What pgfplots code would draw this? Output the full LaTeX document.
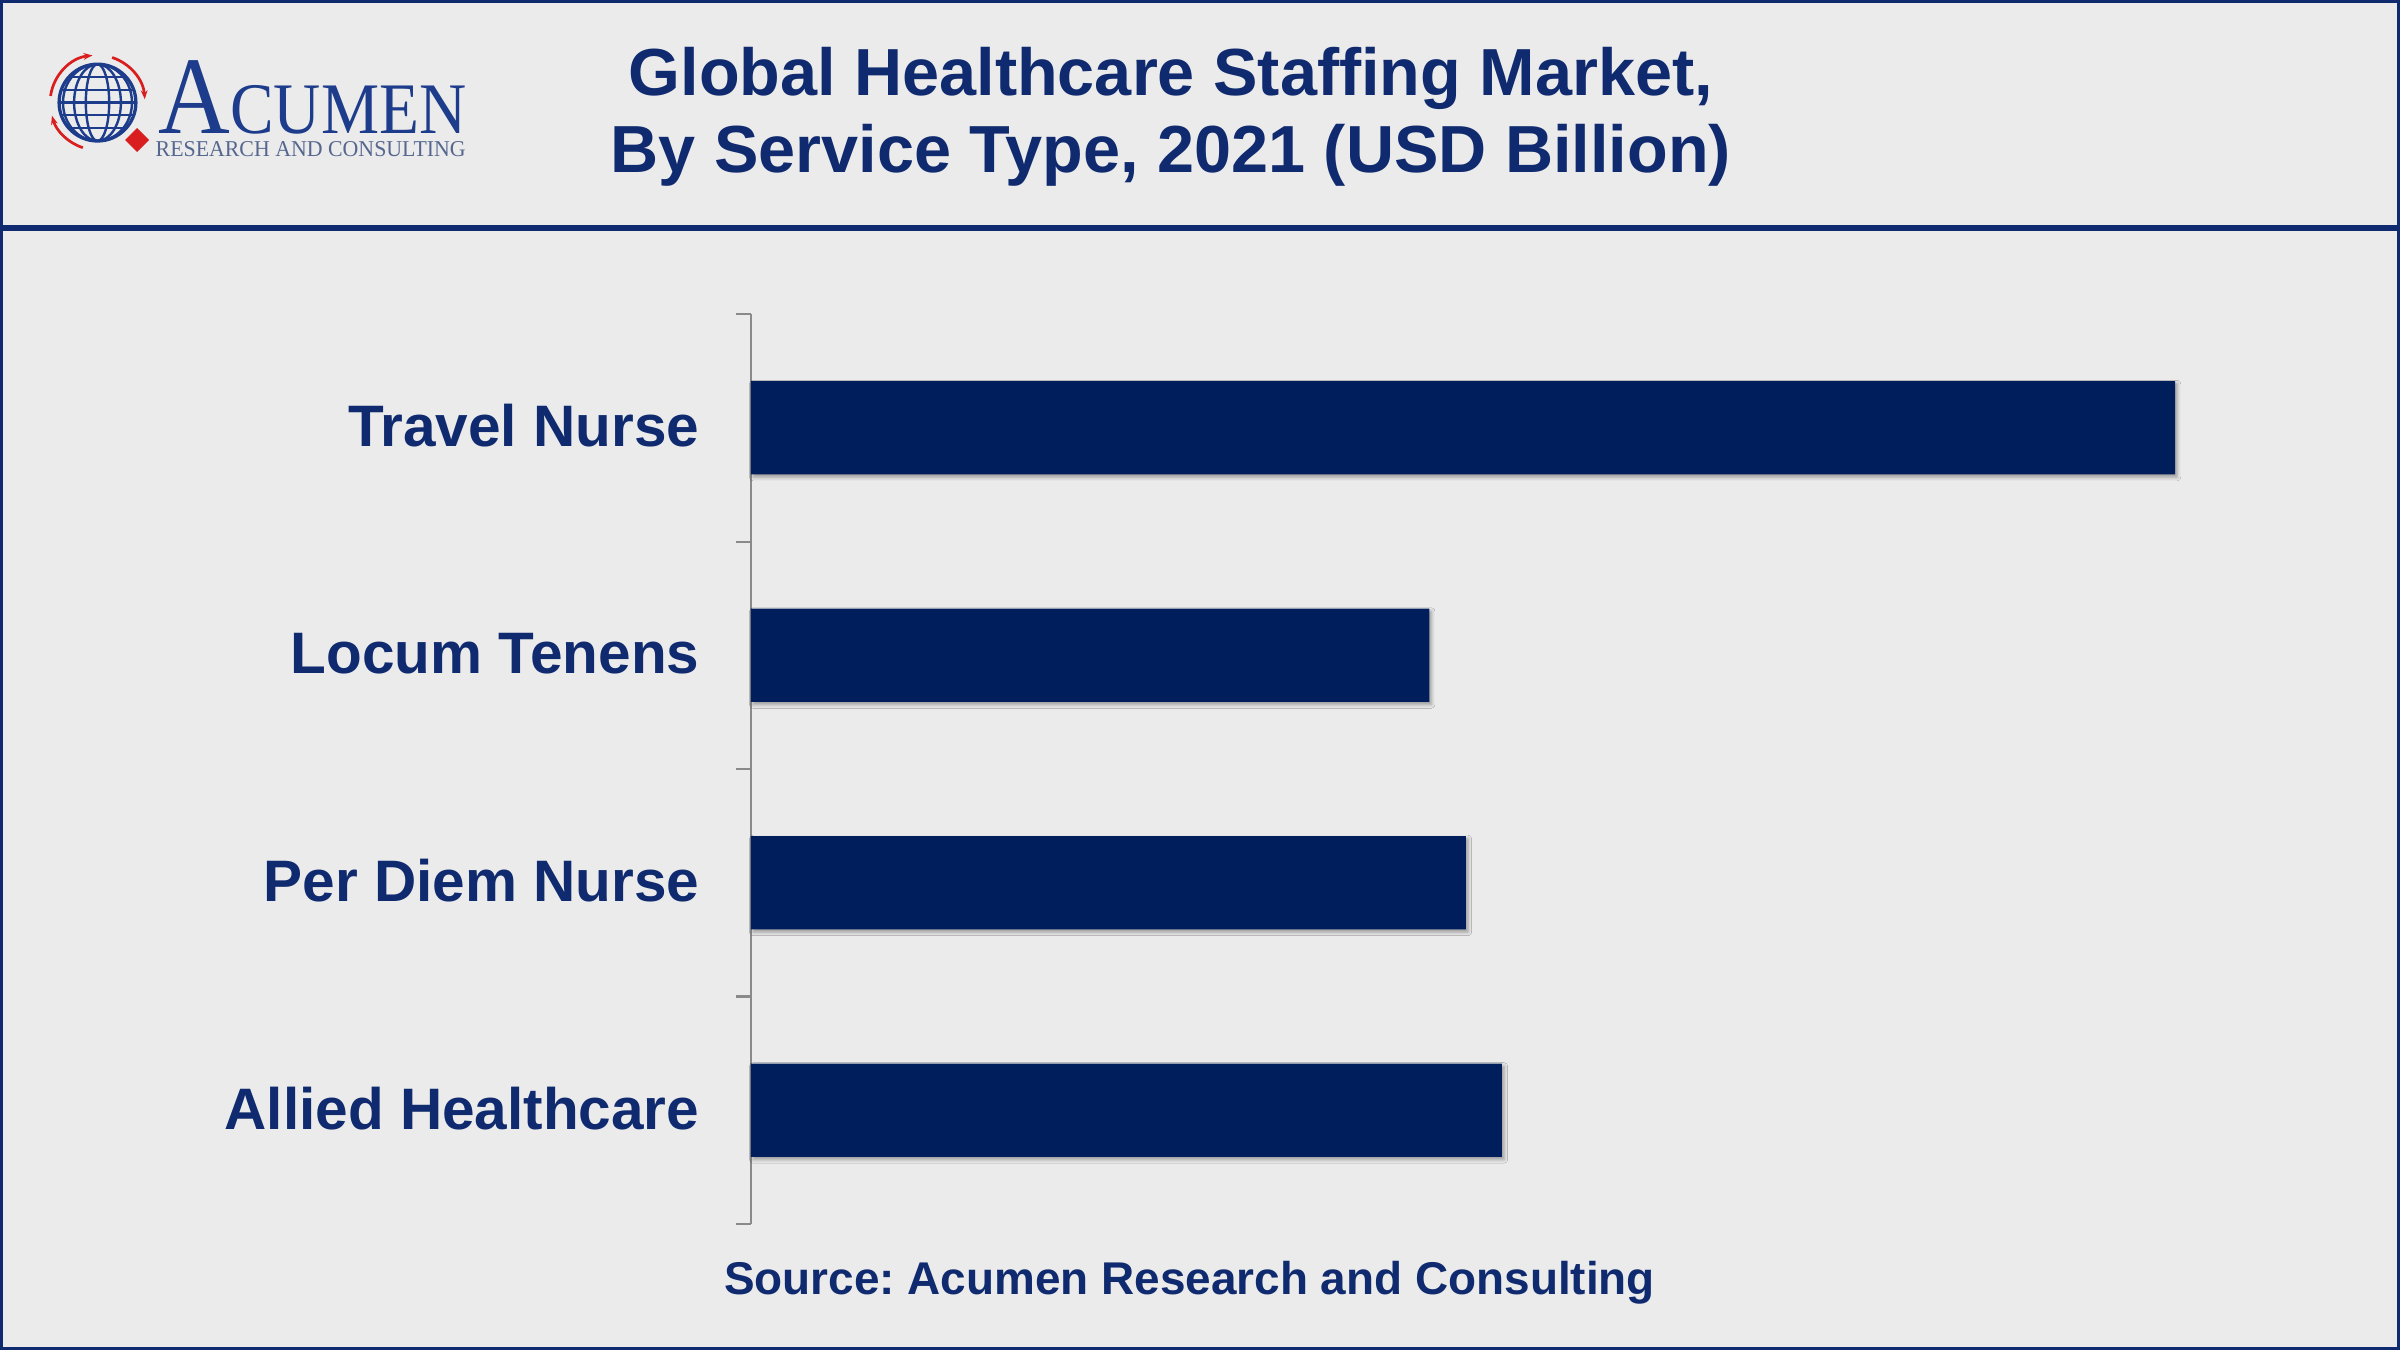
\documentclass[border=0pt]{standalone}
\usepackage{pgfplots}
\pgfplotsset{compat=1.18}
\usepackage{fontspec}
\setmainfont{Liberation Sans}
\newfontfamily\logofont{Liberation Serif}
\usetikzlibrary{shadows.blur,arrows.meta}

\definecolor{bgc}{HTML}{EBEBEB}
\definecolor{navy}{HTML}{0F2A6E}
\definecolor{barc}{HTML}{001E5B}
\definecolor{logoblue}{HTML}{1E3C8C}
\definecolor{logored}{HTML}{D81E1E}
\definecolor{logogray}{HTML}{56678F}
\definecolor{axgray}{HTML}{8A8A8A}

\begin{document}
\frenchspacing
\begin{tikzpicture}
% canvas 800pt x 450pt
\fill[bgc] (0,0) rectangle (800pt,450pt);
\useasboundingbox (0,0) rectangle (800pt,450pt);
\draw[navy, line width=1pt] (0.5pt,0.5pt) rectangle (799.5pt,449.5pt);
\draw[navy, line width=2pt] (0,374pt) -- (800pt,374pt);

% logo
\begin{scope}[shift={(32.5pt,415.8pt)}]
  \begin{scope}
    \clip (0,0) circle (12.8pt);
    \foreach \r in {3.9,7.8,11.5} \draw[logoblue, line width=0.8pt] (0,0) ellipse ({\r pt} and 12.8pt);
    \foreach \h in {-8.5,-4.2,0,4.2,8.5} \draw[logoblue, line width=0.8pt] (-13pt,\h pt) -- (13pt,\h pt);
  \end{scope}
  \draw[logoblue, line width=1.1pt] (0,0) circle (12.8pt);
  \draw[logored, line width=0.9pt, -{Stealth[length=3pt]}] (172:15.8pt) arc (172:96:15.8pt);
  \draw[logored, line width=0.9pt, -{Stealth[length=3pt]}] (72:15.8pt) arc (72:4:15.8pt);
  \draw[logored, line width=0.9pt, -{Stealth[length=3pt]}] (252:15.8pt) arc (252:196:15.8pt);
  \fill[logored] (13.2pt,-16.5pt) -- (17.2pt,-12.5pt) -- (13.2pt,-8.5pt) -- (9.2pt,-12.5pt) -- cycle;
\end{scope}
\node[anchor=base west, inner sep=0pt, text=logoblue, xscale=0.90] at (52.7pt,405.6pt)
  {\logofont\fontsize{36.8}{37}\selectfont A\fontsize{24.2}{25}\selectfont CUMEN};
\node[anchor=base west, inner sep=0pt, text=logogray, xscale=0.965] at (51.7pt,397.9pt)
  {\logofont\fontsize{7.55}{8}\selectfont RESEARCH AND CONSULTING};

% title
\node[text=navy, font=\bfseries\fontsize{22.2}{25.7}\selectfont, align=center] at (390.3pt,411pt)
  {Global Healthcare Staffing Market,\\By Service Type, 2021 (USD Billion)};

% source
\node[text=navy, font=\bfseries\fontsize{15.3}{18}\selectfont] at (396.5pt,22.5pt)
  {Source: Acumen Research and Consulting};

\begin{axis}[
  at={(250.3pt,42pt)}, anchor=south west,
  scale only axis,
  width=499.7pt, height=303.3pt,
  xmin=0, xmax=20,
  ymin=-0.5, ymax=3.5,
  hide x axis,
  axis y line*=left,
  y axis line style={axgray, line width=0.7pt},
  ytick={0,1,2,3},
  yticklabels={Allied Healthcare, Per Diem Nurse, Locum Tenens, Travel Nurse},
  major tick length=0pt,
  extra y ticks={-0.5,0.5,1.5,2.5,3.5},
  extra y tick labels={},
  extra y tick style={tick align=outside, major tick length=5pt, tick style={axgray, line width=0.7pt}},
  yticklabel style={anchor=east, inner sep=0pt, xshift=-17pt, yshift=0.6pt, text=navy, font=\bfseries\fontsize{19.5}{20}\selectfont},
  xbar, bar width=31.1pt,
  clip=false,
]
\addplot[fill=barc, draw=none,
  blur shadow={shadow xshift=0.7pt, shadow yshift=-0.9pt, shadow blur radius=1.2pt, shadow opacity=35}]
  coordinates {(10.02,0) (9.54,1) (9.05,2) (19.0,3)};
\end{axis}
\end{tikzpicture}
\end{document}
